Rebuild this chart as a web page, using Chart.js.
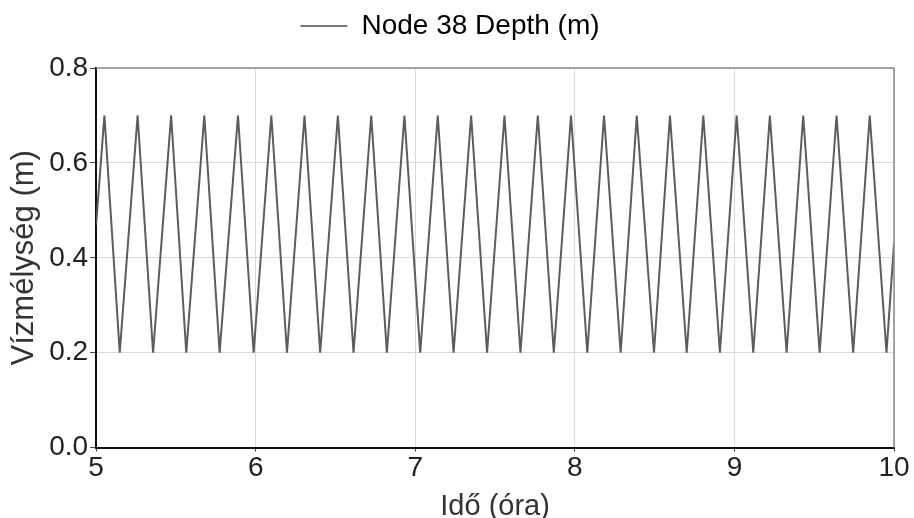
<!DOCTYPE html>
<html>
<head>
<meta charset="utf-8">
<script src="https://cdn.jsdelivr.net/npm/chart.js@4.4.0/dist/chart.umd.min.js"></script>
<style>
  body { margin: 0; background: #fff; }
  #wrap { width: 914px; height: 518px; }
</style>
</head>
<body>
<div id="wrap"><canvas id="depthChart"></canvas></div>
<script>
// turning points of the depth curve (hours / metres)
const times = [5.0,
  5.052, 5.148, 5.26, 5.357, 5.47, 5.565, 5.678, 5.774, 5.889, 5.987,
  6.098, 6.196, 6.306, 6.404, 6.515, 6.613, 6.724, 6.822, 6.932, 7.031,
  7.141, 7.24, 7.35, 7.45, 7.559, 7.659, 7.768, 7.868, 7.976, 8.078,
  8.183, 8.287, 8.388, 8.496, 8.596, 8.701, 8.805, 8.909, 9.014, 9.118,
  9.222, 9.327, 9.431, 9.534, 9.64, 9.744, 9.848, 9.953,
  10.0];
const depths = [0.47,
  0.7, 0.2, 0.7, 0.2, 0.7, 0.2, 0.7, 0.2, 0.7, 0.2,
  0.7, 0.2, 0.7, 0.2, 0.7, 0.2, 0.7, 0.2, 0.7, 0.2,
  0.7, 0.2, 0.7, 0.2, 0.7, 0.2, 0.7, 0.2, 0.7, 0.2,
  0.7, 0.2, 0.7, 0.2, 0.7, 0.2, 0.7, 0.2, 0.7, 0.2,
  0.7, 0.2, 0.7, 0.2, 0.7, 0.2, 0.7, 0.2,
  0.43];
const xTicks = [5, 6, 7, 8, 9, 10];
const yTicks = [0.0, 0.2, 0.4, 0.6, 0.8];
const seriesName = 'Node 38 Depth (m)';

const points = times.map((t, i) => ({ x: t, y: depths[i] }));

// grey top and right frame lines
const frame = {
    id: 'frame',
    afterDraw(chart) {
        const a = chart.chartArea, c = chart.ctx;
        c.save();
        c.strokeStyle = '#8a8a8a';
        c.lineWidth = 1.5;
        c.beginPath();
        c.moveTo(a.left, a.top);
        c.lineTo(a.right, a.top);
        c.lineTo(a.right, a.bottom);
        c.stroke();
        c.restore();
    }
};

// a bit more room under the legend
const legendGap = {
    id: 'legendGap',
    beforeInit(chart) {
        const fit = chart.legend.fit;
        chart.legend.fit = function () {
            fit.bind(chart.legend)();
            this.height += 18;
        };
    }
};

const ctx = document.getElementById('depthChart').getContext('2d');
const depthChart = new Chart(ctx, {
    type: 'line',
    data: {
        datasets: [{
            label: seriesName,
            data: points,
            borderColor: '#5c5c5c',
            backgroundColor: '#7a7a7a',
            borderWidth: 2,
            pointRadius: 0,
            tension: 0,
            fill: false
        }]
    },
    options: {
        responsive: true,
        maintainAspectRatio: false,
        animation: false,
        layout: { padding: { top: 2, right: 20, left: 6, bottom: 0 } },
        plugins: {
            tooltip: { enabled: false },
            legend: {
                position: 'top',
                labels: {
                    color: '#222',
                    font: { family: 'Liberation Sans', size: 28 },
                    boxWidth: 47,
                    boxHeight: 2,
                    padding: 10,
                    generateLabels: (chart) => [{
                        text: seriesName,
                        fillStyle: '#7a7a7a',
                        strokeStyle: '#7a7a7a',
                        lineWidth: 0,
                        datasetIndex: 0
                    }]
                }
            }
        },
        scales: {
            x: {
                type: 'linear',
                min: 5,
                max: 10,
                afterBuildTicks: (s) => { s.ticks = xTicks.map(v => ({ value: v })); },
                ticks: {
                    color: '#222',
                    font: { family: 'Liberation Sans', size: 28 },
                    padding: 0,
                    maxRotation: 0
                },
                grid: { color: '#d9d9d9', lineWidth: 1, tickLength: 4, tickColor: '#444' },
                border: { color: '#111', width: 2 },
                title: {
                    display: true,
                    text: 'Idő (óra)',
                    color: '#333',
                    font: { family: 'Liberation Sans', size: 29 },
                    padding: { top: 4, bottom: -6 }
                }
            },
            y: {
                min: 0,
                max: 0.8,
                afterBuildTicks: (s) => { s.ticks = yTicks.map(v => ({ value: v })); },
                ticks: {
                    color: '#222',
                    font: { family: 'Liberation Sans', size: 28 },
                    padding: 2,
                    callback: (v) => Number(v).toFixed(1)
                },
                grid: { color: '#d9d9d9', lineWidth: 1, tickLength: 6, tickColor: '#444' },
                border: { color: '#111', width: 2 },
                title: {
                    display: true,
                    text: 'Vízmélység (m)',
                    color: '#333',
                    font: { family: 'Liberation Sans', size: 31 },
                    padding: { top: 0, bottom: 4 }
                }
            }
        }
    },
    plugins: [frame, legendGap]
});
</script>
</body>
</html>
